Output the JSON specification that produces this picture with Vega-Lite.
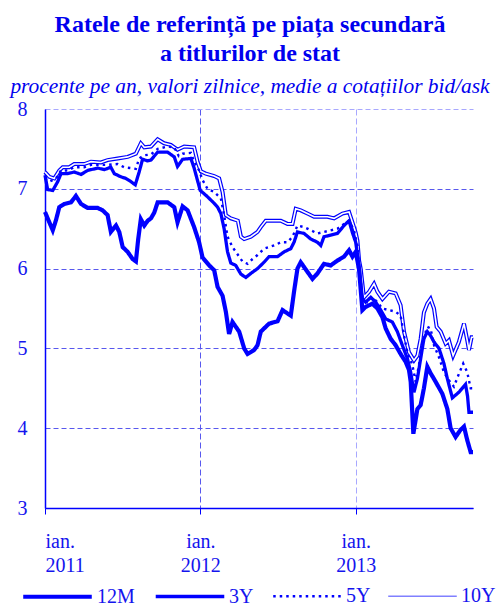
{
  "$schema": "https://vega.github.io/schema/vega-lite/v6.json",
  "width": 428,
  "height": 399,
  "padding": {"left": 10, "top": 12, "right": 2, "bottom": 0},
  "background": "white",
  "config": {"view": {"stroke": null}},
  "title": {
    "text": ["Ratele de referință pe piața secundară", "a titlurilor de stat"],
    "subtitle": "procente pe an, valori zilnice, medie a cotațiilor bid/ask",
    "font": "Liberation Serif", "fontSize": 24, "fontWeight": "bold", "color": "#0000ee", "lineHeight": 29,
    "subtitleFont": "Liberation Serif", "subtitleFontSize": 21.4, "subtitleFontStyle": "italic", "subtitleColor": "#0000ee",
    "subtitlePadding": 10, "anchor": "middle", "frame": "group", "dx": -9, "offset": 2
  },
  "datasets": {
    "rates": [
      {"t":2011.000,"s":"12M","v":6.71},{"t":2011.017,"s":"12M","v":6.63},{"t":2011.050,"s":"12M","v":6.48},{"t":2011.071,"s":"12M","v":6.61},{"t":2011.092,"s":"12M","v":6.77},{"t":2011.124,"s":"12M","v":6.81},{"t":2011.167,"s":"12M","v":6.83},{"t":2011.199,"s":"12M","v":6.91},{"t":2011.232,"s":"12M","v":6.81},{"t":2011.275,"s":"12M","v":6.76},{"t":2011.339,"s":"12M","v":6.76},{"t":2011.371,"s":"12M","v":6.73},{"t":2011.403,"s":"12M","v":6.67},{"t":2011.424,"s":"12M","v":6.46},{"t":2011.457,"s":"12M","v":6.54},{"t":2011.478,"s":"12M","v":6.46},{"t":2011.500,"s":"12M","v":6.27},{"t":2011.532,"s":"12M","v":6.21},{"t":2011.564,"s":"12M","v":6.12},{"t":2011.585,"s":"12M","v":6.09},{"t":2011.600,"s":"12M","v":6.37},{"t":2011.617,"s":"12M","v":6.62},{"t":2011.639,"s":"12M","v":6.54},{"t":2011.661,"s":"12M","v":6.60},{"t":2011.682,"s":"12M","v":6.63},{"t":2011.703,"s":"12M","v":6.70},{"t":2011.725,"s":"12M","v":6.83},{"t":2011.789,"s":"12M","v":6.83},{"t":2011.832,"s":"12M","v":6.77},{"t":2011.853,"s":"12M","v":6.58},{"t":2011.886,"s":"12M","v":6.78},{"t":2011.918,"s":"12M","v":6.73},{"t":2011.960,"s":"12M","v":6.52},{"t":2011.992,"s":"12M","v":6.33},{"t":2012.014,"s":"12M","v":6.14},{"t":2012.057,"s":"12M","v":6.04},{"t":2012.089,"s":"12M","v":5.98},{"t":2012.111,"s":"12M","v":5.77},{"t":2012.143,"s":"12M","v":5.66},{"t":2012.164,"s":"12M","v":5.46},{"t":2012.185,"s":"12M","v":5.18},{"t":2012.207,"s":"12M","v":5.33},{"t":2012.250,"s":"12M","v":5.21},{"t":2012.282,"s":"12M","v":5.00},{"t":2012.304,"s":"12M","v":4.93},{"t":2012.346,"s":"12M","v":4.98},{"t":2012.368,"s":"12M","v":5.04},{"t":2012.389,"s":"12M","v":5.21},{"t":2012.442,"s":"12M","v":5.31},{"t":2012.497,"s":"12M","v":5.34},{"t":2012.529,"s":"12M","v":5.48},{"t":2012.582,"s":"12M","v":5.41},{"t":2012.603,"s":"12M","v":5.71},{"t":2012.625,"s":"12M","v":6.00},{"t":2012.646,"s":"12M","v":6.08},{"t":2012.689,"s":"12M","v":5.96},{"t":2012.722,"s":"12M","v":5.87},{"t":2012.754,"s":"12M","v":5.94},{"t":2012.796,"s":"12M","v":6.06},{"t":2012.839,"s":"12M","v":6.04},{"t":2012.882,"s":"12M","v":6.10},{"t":2012.925,"s":"12M","v":6.15},{"t":2012.957,"s":"12M","v":6.23},{"t":2012.979,"s":"12M","v":6.15},{"t":2013.000,"s":"12M","v":6.21},{"t":2013.021,"s":"12M","v":6.00},{"t":2013.043,"s":"12M","v":5.48},{"t":2013.064,"s":"12M","v":5.52},{"t":2013.107,"s":"12M","v":5.56},{"t":2013.140,"s":"12M","v":5.50},{"t":2013.172,"s":"12M","v":5.39},{"t":2013.193,"s":"12M","v":5.25},{"t":2013.225,"s":"12M","v":5.12},{"t":2013.257,"s":"12M","v":5.04},{"t":2013.289,"s":"12M","v":4.93},{"t":2013.322,"s":"12M","v":4.83},{"t":2013.343,"s":"12M","v":4.73},{"t":2013.354,"s":"12M","v":4.58},{"t":2013.371,"s":"12M","v":3.93},{"t":2013.397,"s":"12M","v":4.24},{"t":2013.418,"s":"12M","v":4.29},{"t":2013.439,"s":"12M","v":4.50},{"t":2013.461,"s":"12M","v":4.77},{"t":2013.482,"s":"12M","v":4.69},{"t":2013.515,"s":"12M","v":4.58},{"t":2013.558,"s":"12M","v":4.43},{"t":2013.590,"s":"12M","v":4.24},{"t":2013.611,"s":"12M","v":4.00},{"t":2013.643,"s":"12M","v":3.89},{"t":2013.675,"s":"12M","v":3.98},{"t":2013.697,"s":"12M","v":4.02},{"t":2013.718,"s":"12M","v":3.85},{"t":2013.740,"s":"12M","v":3.70},{"t":2013.755,"s":"12M","v":3.70},

      {"t":2011.000,"s":"3Y","v":7.17},{"t":2011.017,"s":"3Y","v":6.99},{"t":2011.050,"s":"3Y","v":6.98},{"t":2011.082,"s":"3Y","v":7.09},{"t":2011.103,"s":"3Y","v":7.19},{"t":2011.146,"s":"3Y","v":7.19},{"t":2011.188,"s":"3Y","v":7.21},{"t":2011.232,"s":"3Y","v":7.18},{"t":2011.275,"s":"3Y","v":7.23},{"t":2011.339,"s":"3Y","v":7.26},{"t":2011.381,"s":"3Y","v":7.24},{"t":2011.424,"s":"3Y","v":7.27},{"t":2011.446,"s":"3Y","v":7.19},{"t":2011.489,"s":"3Y","v":7.15},{"t":2011.521,"s":"3Y","v":7.13},{"t":2011.553,"s":"3Y","v":7.09},{"t":2011.581,"s":"3Y","v":7.05},{"t":2011.606,"s":"3Y","v":7.21},{"t":2011.628,"s":"3Y","v":7.37},{"t":2011.661,"s":"3Y","v":7.35},{"t":2011.682,"s":"3Y","v":7.36},{"t":2011.725,"s":"3Y","v":7.46},{"t":2011.789,"s":"3Y","v":7.46},{"t":2011.832,"s":"3Y","v":7.40},{"t":2011.853,"s":"3Y","v":7.28},{"t":2011.886,"s":"3Y","v":7.37},{"t":2011.939,"s":"3Y","v":7.38},{"t":2011.960,"s":"3Y","v":7.26},{"t":2011.999,"s":"3Y","v":6.98},{"t":2012.035,"s":"3Y","v":6.92},{"t":2012.078,"s":"3Y","v":6.84},{"t":2012.111,"s":"3Y","v":6.77},{"t":2012.132,"s":"3Y","v":6.69},{"t":2012.153,"s":"3Y","v":6.50},{"t":2012.175,"s":"3Y","v":6.21},{"t":2012.196,"s":"3Y","v":6.07},{"t":2012.228,"s":"3Y","v":6.04},{"t":2012.261,"s":"3Y","v":5.93},{"t":2012.293,"s":"3Y","v":5.89},{"t":2012.325,"s":"3Y","v":5.94},{"t":2012.368,"s":"3Y","v":6.00},{"t":2012.410,"s":"3Y","v":6.08},{"t":2012.442,"s":"3Y","v":6.15},{"t":2012.497,"s":"3Y","v":6.15},{"t":2012.539,"s":"3Y","v":6.21},{"t":2012.582,"s":"3Y","v":6.25},{"t":2012.603,"s":"3Y","v":6.33},{"t":2012.625,"s":"3Y","v":6.46},{"t":2012.668,"s":"3Y","v":6.44},{"t":2012.711,"s":"3Y","v":6.37},{"t":2012.754,"s":"3Y","v":6.33},{"t":2012.775,"s":"3Y","v":6.29},{"t":2012.796,"s":"3Y","v":6.40},{"t":2012.839,"s":"3Y","v":6.42},{"t":2012.882,"s":"3Y","v":6.44},{"t":2012.925,"s":"3Y","v":6.54},{"t":2012.957,"s":"3Y","v":6.60},{"t":2012.979,"s":"3Y","v":6.45},{"t":2013.000,"s":"3Y","v":6.33},{"t":2013.021,"s":"3Y","v":6.04},{"t":2013.043,"s":"3Y","v":5.62},{"t":2013.064,"s":"3Y","v":5.58},{"t":2013.097,"s":"3Y","v":5.64},{"t":2013.129,"s":"3Y","v":5.58},{"t":2013.161,"s":"3Y","v":5.48},{"t":2013.193,"s":"3Y","v":5.37},{"t":2013.236,"s":"3Y","v":5.33},{"t":2013.268,"s":"3Y","v":5.21},{"t":2013.300,"s":"3Y","v":5.04},{"t":2013.333,"s":"3Y","v":4.87},{"t":2013.354,"s":"3Y","v":4.70},{"t":2013.375,"s":"3Y","v":4.45},{"t":2013.397,"s":"3Y","v":4.62},{"t":2013.418,"s":"3Y","v":4.87},{"t":2013.439,"s":"3Y","v":5.12},{"t":2013.461,"s":"3Y","v":5.21},{"t":2013.482,"s":"3Y","v":5.16},{"t":2013.504,"s":"3Y","v":5.08},{"t":2013.536,"s":"3Y","v":5.00},{"t":2013.568,"s":"3Y","v":4.81},{"t":2013.590,"s":"3Y","v":4.62},{"t":2013.622,"s":"3Y","v":4.38},{"t":2013.664,"s":"3Y","v":4.45},{"t":2013.707,"s":"3Y","v":4.55},{"t":2013.720,"s":"3Y","v":4.40},{"t":2013.729,"s":"3Y","v":4.20},{"t":2013.755,"s":"3Y","v":4.20},

      {"t":2011.000,"s":"5Y","v":7.13},{"t":2011.028,"s":"5Y","v":7.09},{"t":2011.071,"s":"5Y","v":7.13},{"t":2011.103,"s":"5Y","v":7.23},{"t":2011.146,"s":"5Y","v":7.23},{"t":2011.188,"s":"5Y","v":7.27},{"t":2011.253,"s":"5Y","v":7.27},{"t":2011.296,"s":"5Y","v":7.30},{"t":2011.360,"s":"5Y","v":7.30},{"t":2011.403,"s":"5Y","v":7.30},{"t":2011.468,"s":"5Y","v":7.31},{"t":2011.510,"s":"5Y","v":7.27},{"t":2011.553,"s":"5Y","v":7.26},{"t":2011.585,"s":"5Y","v":7.25},{"t":2011.606,"s":"5Y","v":7.38},{"t":2011.639,"s":"5Y","v":7.42},{"t":2011.682,"s":"5Y","v":7.43},{"t":2011.725,"s":"5Y","v":7.50},{"t":2011.789,"s":"5Y","v":7.53},{"t":2011.832,"s":"5Y","v":7.52},{"t":2011.861,"s":"5Y","v":7.41},{"t":2011.886,"s":"5Y","v":7.44},{"t":2011.939,"s":"5Y","v":7.45},{"t":2011.960,"s":"5Y","v":7.34},{"t":2011.992,"s":"5Y","v":7.23},{"t":2012.014,"s":"5Y","v":7.11},{"t":2012.046,"s":"5Y","v":7.00},{"t":2012.089,"s":"5Y","v":6.96},{"t":2012.132,"s":"5Y","v":6.88},{"t":2012.153,"s":"5Y","v":6.67},{"t":2012.175,"s":"5Y","v":6.40},{"t":2012.207,"s":"5Y","v":6.27},{"t":2012.239,"s":"5Y","v":6.18},{"t":2012.271,"s":"5Y","v":6.09},{"t":2012.304,"s":"5Y","v":6.06},{"t":2012.336,"s":"5Y","v":6.12},{"t":2012.368,"s":"5Y","v":6.17},{"t":2012.410,"s":"5Y","v":6.25},{"t":2012.442,"s":"5Y","v":6.27},{"t":2012.475,"s":"5Y","v":6.29},{"t":2012.518,"s":"5Y","v":6.33},{"t":2012.561,"s":"5Y","v":6.33},{"t":2012.593,"s":"5Y","v":6.40},{"t":2012.625,"s":"5Y","v":6.54},{"t":2012.668,"s":"5Y","v":6.52},{"t":2012.711,"s":"5Y","v":6.48},{"t":2012.754,"s":"5Y","v":6.44},{"t":2012.796,"s":"5Y","v":6.46},{"t":2012.839,"s":"5Y","v":6.48},{"t":2012.882,"s":"5Y","v":6.50},{"t":2012.925,"s":"5Y","v":6.56},{"t":2012.957,"s":"5Y","v":6.60},{"t":2012.989,"s":"5Y","v":6.48},{"t":2013.011,"s":"5Y","v":6.29},{"t":2013.021,"s":"5Y","v":6.04},{"t":2013.043,"s":"5Y","v":5.64},{"t":2013.075,"s":"5Y","v":5.58},{"t":2013.107,"s":"5Y","v":5.64},{"t":2013.140,"s":"5Y","v":5.58},{"t":2013.172,"s":"5Y","v":5.50},{"t":2013.214,"s":"5Y","v":5.48},{"t":2013.257,"s":"5Y","v":5.46},{"t":2013.289,"s":"5Y","v":5.41},{"t":2013.311,"s":"5Y","v":5.16},{"t":2013.333,"s":"5Y","v":4.95},{"t":2013.365,"s":"5Y","v":4.79},{"t":2013.386,"s":"5Y","v":4.58},{"t":2013.407,"s":"5Y","v":4.79},{"t":2013.429,"s":"5Y","v":5.08},{"t":2013.461,"s":"5Y","v":5.27},{"t":2013.482,"s":"5Y","v":5.25},{"t":2013.504,"s":"5Y","v":5.04},{"t":2013.536,"s":"5Y","v":4.89},{"t":2013.568,"s":"5Y","v":4.70},{"t":2013.600,"s":"5Y","v":4.60},{"t":2013.632,"s":"5Y","v":4.52},{"t":2013.664,"s":"5Y","v":4.68},{"t":2013.692,"s":"5Y","v":4.81},{"t":2013.718,"s":"5Y","v":4.70},{"t":2013.740,"s":"5Y","v":4.50},{"t":2013.755,"s":"5Y","v":4.50},

      {"t":2011.000,"s":"10Y","v":7.21},{"t":2011.028,"s":"10Y","v":7.15},{"t":2011.060,"s":"10Y","v":7.13},{"t":2011.092,"s":"10Y","v":7.23},{"t":2011.114,"s":"10Y","v":7.27},{"t":2011.156,"s":"10Y","v":7.27},{"t":2011.188,"s":"10Y","v":7.31},{"t":2011.253,"s":"10Y","v":7.31},{"t":2011.296,"s":"10Y","v":7.34},{"t":2011.360,"s":"10Y","v":7.33},{"t":2011.403,"s":"10Y","v":7.36},{"t":2011.468,"s":"10Y","v":7.38},{"t":2011.532,"s":"10Y","v":7.40},{"t":2011.585,"s":"10Y","v":7.44},{"t":2011.617,"s":"10Y","v":7.57},{"t":2011.639,"s":"10Y","v":7.52},{"t":2011.682,"s":"10Y","v":7.53},{"t":2011.725,"s":"10Y","v":7.62},{"t":2011.767,"s":"10Y","v":7.57},{"t":2011.810,"s":"10Y","v":7.55},{"t":2011.853,"s":"10Y","v":7.49},{"t":2011.896,"s":"10Y","v":7.53},{"t":2011.960,"s":"10Y","v":7.52},{"t":2011.982,"s":"10Y","v":7.34},{"t":2012.003,"s":"10Y","v":7.22},{"t":2012.035,"s":"10Y","v":7.19},{"t":2012.089,"s":"10Y","v":7.16},{"t":2012.121,"s":"10Y","v":7.13},{"t":2012.143,"s":"10Y","v":6.96},{"t":2012.164,"s":"10Y","v":6.67},{"t":2012.196,"s":"10Y","v":6.63},{"t":2012.241,"s":"10Y","v":6.60},{"t":2012.261,"s":"10Y","v":6.40},{"t":2012.282,"s":"10Y","v":6.37},{"t":2012.325,"s":"10Y","v":6.40},{"t":2012.368,"s":"10Y","v":6.46},{"t":2012.389,"s":"10Y","v":6.52},{"t":2012.421,"s":"10Y","v":6.60},{"t":2012.453,"s":"10Y","v":6.60},{"t":2012.486,"s":"10Y","v":6.60},{"t":2012.518,"s":"10Y","v":6.60},{"t":2012.561,"s":"10Y","v":6.56},{"t":2012.593,"s":"10Y","v":6.56},{"t":2012.614,"s":"10Y","v":6.75},{"t":2012.646,"s":"10Y","v":6.73},{"t":2012.689,"s":"10Y","v":6.69},{"t":2012.732,"s":"10Y","v":6.65},{"t":2012.775,"s":"10Y","v":6.65},{"t":2012.818,"s":"10Y","v":6.65},{"t":2012.861,"s":"10Y","v":6.63},{"t":2012.915,"s":"10Y","v":6.69},{"t":2012.957,"s":"10Y","v":6.71},{"t":2012.979,"s":"10Y","v":6.58},{"t":2013.000,"s":"10Y","v":6.45},{"t":2013.011,"s":"10Y","v":6.35},{"t":2013.022,"s":"10Y","v":6.10},{"t":2013.032,"s":"10Y","v":6.00},{"t":2013.053,"s":"10Y","v":5.64},{"t":2013.086,"s":"10Y","v":5.71},{"t":2013.118,"s":"10Y","v":5.81},{"t":2013.140,"s":"10Y","v":5.71},{"t":2013.172,"s":"10Y","v":5.62},{"t":2013.214,"s":"10Y","v":5.71},{"t":2013.257,"s":"10Y","v":5.69},{"t":2013.289,"s":"10Y","v":5.54},{"t":2013.311,"s":"10Y","v":5.21},{"t":2013.343,"s":"10Y","v":4.95},{"t":2013.375,"s":"10Y","v":4.85},{"t":2013.397,"s":"10Y","v":4.91},{"t":2013.418,"s":"10Y","v":5.12},{"t":2013.439,"s":"10Y","v":5.45},{"t":2013.461,"s":"10Y","v":5.56},{"t":2013.482,"s":"10Y","v":5.62},{"t":2013.504,"s":"10Y","v":5.50},{"t":2013.521,"s":"10Y","v":5.27},{"t":2013.547,"s":"10Y","v":5.21},{"t":2013.579,"s":"10Y","v":5.06},{"t":2013.600,"s":"10Y","v":5.10},{"t":2013.627,"s":"10Y","v":4.91},{"t":2013.664,"s":"10Y","v":5.08},{"t":2013.697,"s":"10Y","v":5.31},{"t":2013.718,"s":"10Y","v":5.10},{"t":2013.729,"s":"10Y","v":4.98},{"t":2013.746,"s":"10Y","v":5.14},{"t":2013.755,"s":"10Y","v":5.14}
    ]
  },
  "data": {"name": "rates"},
  "encoding": {
    "x": {
      "field": "t", "type": "quantitative",
      "scale": {"domain": [2011, 2013.755], "nice": false, "zero": false},
      "axis": {
        "title": null, "values": [2011, 2012, 2013],
        "labelExpr": "['ian.', format(datum.value, 'd')]",
        "labelFont": "Liberation Serif", "labelFontSize": 20, "labelColor": "#1414ee",
        "labelLineHeight": 24, "labelPadding": 17, "labelBaseline": "top",
        "ticks": true, "tickSize": 6, "tickColor": "#0000ff", "tickWidth": 1,
        "domainColor": "#0000ff", "domainWidth": 1.5,
        "grid": true, "gridDash": [6, 3], "gridWidth": 1,
        "gridColor": {"condition": {"test": "datum.value === 2013", "value": "#a8a8ff"}, "value": "#5858ee"}
      }
    },
    "y": {
      "field": "v", "type": "quantitative",
      "scale": {"domain": [3, 8], "nice": false, "zero": false},
      "axis": {
        "title": null, "values": [3, 4, 5, 6, 7, 8], "format": "d",
        "labelFont": "Liberation Serif", "labelFontSize": 20, "labelColor": "#1414ee", "labelPadding": 18,
        "ticks": false, "domainColor": "#0000ff", "domainWidth": 1.5,
        "grid": true, "gridDash": [5, 3], "gridWidth": 1,
        "gridColor": {"condition": {"test": "datum.value === 8", "value": "#a8a8ff"}, "value": "#5858ee"}
      }
    }
  },
  "layer": [
    {
      "transform": [{"filter": "datum.s === '10Y'"}],
      "mark": {"type": "line", "color": "#0000ff", "strokeWidth": 4, "interpolate": "linear"},
      "encoding": {}
    },
    {
      "transform": [{"filter": "datum.s === '10Y'"}],
      "mark": {"type": "line", "color": "#ffffff", "strokeWidth": 1.6, "interpolate": "linear"},
      "encoding": {}
    },
    {
      "transform": [{"filter": "datum.s !== '10Y'"}],
      "mark": {"type": "line", "interpolate": "linear"},
      "encoding": {
        "detail": {"field": "s"},
        "color": {
          "field": "s", "type": "nominal",
          "scale": {"domain": ["12M", "3Y", "5Y", "10Y"], "range": ["#0000ff", "#0000ff", "#0000ff", "#8080ff"]},
          "legend": {
            "title": null, "orient": "none", "legendX": -24, "legendY": 451, "direction": "horizontal",
            "symbolType": "stroke", "symbolSize": 4700, "labelFont": "Liberation Serif", "labelFontSize": 20,
            "labelColor": "#1414ee", "labelOffset": 3, "columnPadding": 14
          }
        },
        "strokeWidth": {
          "field": "s", "type": "nominal",
          "scale": {"domain": ["12M", "3Y", "5Y", "10Y"], "range": [4.2, 1.5, 3, 4]}
        },
        "strokeDash": {
          "field": "s", "type": "nominal",
          "scale": {"domain": ["12M", "3Y", "5Y", "10Y"], "range": [[1, 0], [1, 0], [2.5, 4], [1, 0]]}
        }
      }
    }
  ]
}
